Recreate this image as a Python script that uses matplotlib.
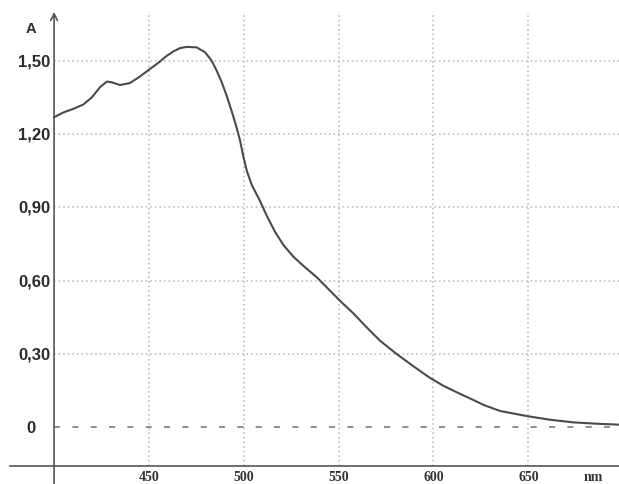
import matplotlib
matplotlib.use("Agg")
import matplotlib.pyplot as plt

# spectrum
wavelength = [400, 405, 410, 415.4, 420, 424.2, 427.8, 430.4, 434.8, 440, 445.3, 450.6, 455,
              459, 463, 466.4, 470, 475.2, 479.6, 483.1, 485.7, 488.4, 491, 493.7, 496.3, 498,
              499.8, 501.6, 504.2, 508.6, 512.1, 516.5, 520.9, 526.2, 531.4, 538.5, 545.5,
              551.5, 557.8, 564.8, 571.9, 580.6, 589.4, 598.2, 605.2, 614, 621, 626.3, 635,
              650, 661.5, 674, 688, 697.5]
absorbance = [1.269, 1.289, 1.303, 1.321, 1.351, 1.392, 1.415, 1.412, 1.401, 1.409, 1.436,
              1.467, 1.492, 1.518, 1.539, 1.552, 1.557, 1.555, 1.535, 1.500, 1.460, 1.412,
              1.357, 1.292, 1.225, 1.175, 1.108, 1.050, 0.992, 0.926, 0.866, 0.800, 0.746,
              0.698, 0.661, 0.614, 0.559, 0.512, 0.466, 0.409, 0.354, 0.300, 0.250, 0.202,
              0.170, 0.137, 0.112, 0.092, 0.067, 0.045, 0.031, 0.020, 0.014, 0.011]

x_ticks = [450, 500, 550, 600, 650]
y_ticks = [0.30, 0.60, 0.90, 1.20, 1.50]
y_labels = ["0,30", "0,60", "0,90", "1,20", "1,50"]

x_min, x_max = 371.5, 697.8
y_min, y_max = -0.232, 1.753
x_axis_y = -0.157
top = 1.70

fig = plt.figure(figsize=(6.19, 4.85), dpi=100)
ax = fig.add_axes([0, 0, 1, 1])
ax.set_xlim(x_min, x_max)
ax.set_ylim(y_min, y_max)
ax.axis("off")

grid_kw = dict(color="#b4b4b4", linestyle=(0, (1, 2)), linewidth=1.1, zorder=1)
for xv in x_ticks:
    ax.plot([xv, xv], [x_axis_y, top], **grid_kw)
for yv in y_ticks:
    ax.plot([400, x_max], [yv, yv], **grid_kw)
ax.plot([400, 693], [0, 0], color="#707070", linestyle=(0, (4, 8)), linewidth=1.1, zorder=1)

# axes lines
ax.plot([376.8, x_max], [x_axis_y, x_axis_y], color="#555555", linewidth=1.2, zorder=2)
ax.annotate("", xy=(400, top), xytext=(400, y_min),
            arrowprops=dict(arrowstyle="->", color="#555555", lw=1.2,
                            shrinkA=0, shrinkB=0, mutation_scale=12), zorder=2)

ax.plot(wavelength, absorbance, color="#4a4a4a", linewidth=1.5, zorder=3,
        solid_joinstyle="round")

# labels
lab_kw = dict(ha="center", va="center", family="Liberation Sans", color="#2a2a2a")
for yv, lab in zip(y_ticks, y_labels):
    ax.text(389.5, yv, lab, fontsize=12, fontweight="bold", **lab_kw)
ax.text(388, 0, "0", fontsize=12, fontweight="bold", **lab_kw)
ax.text(388, 1.634, "A", fontsize=10.5, fontweight="bold", **lab_kw)
for xv in x_ticks:
    ax.text(xv, -0.203, str(xv), ha="center", va="center", fontsize=10,
            family="Liberation Serif", fontweight="bold", color="#333333")
ax.text(684, -0.203, "nm", ha="center", va="center", fontsize=10,
        family="Liberation Serif", fontweight="bold", color="#333333")

fig.savefig("out.png", dpi=100)
